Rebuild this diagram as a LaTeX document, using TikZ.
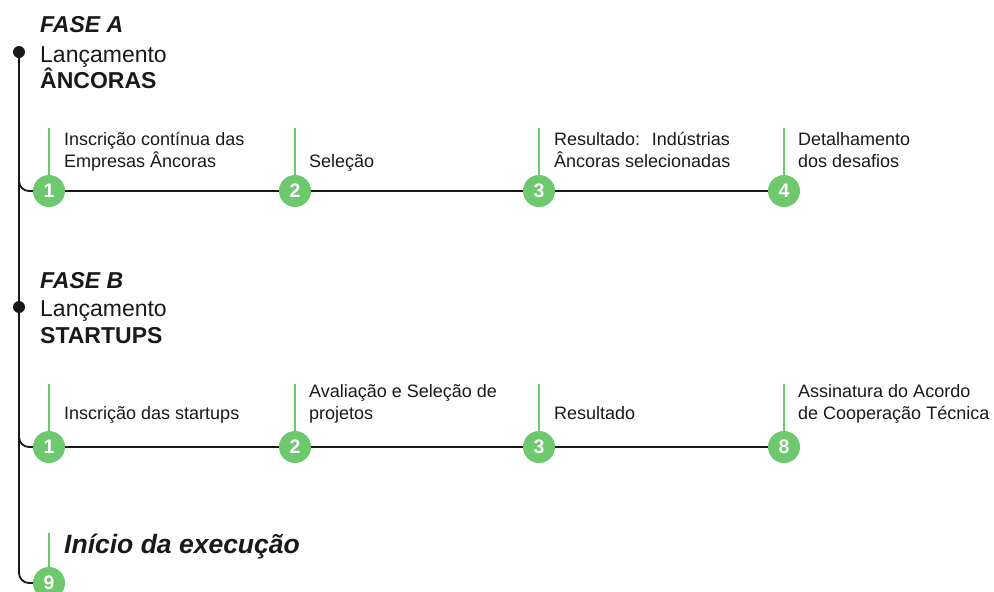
\documentclass[tikz,border=0pt]{standalone}
\usepackage{fontspec}
\setmainfont{Liberation Sans}
\usetikzlibrary{calc}
\definecolor{stepgreen}{RGB}{110,200,110}
\definecolor{ink}{RGB}{25,25,25}
\pgfdeclarelayer{background}
\pgfsetlayers{background,main}
\begin{document}
\begin{tikzpicture}[x=1pt,y=-1pt,
  num/.style={circle, fill=stepgreen, text=white, minimum size=32pt, inner sep=0pt, font=\fontsize{19.5}{19.5}\selectfont\bfseries},
  stem/.style={draw=stepgreen, line width=2.4pt},
  trunk/.style={draw=ink, line width=1.8pt},
  lbl/.style={anchor=base west, inner sep=0pt, align=left, font=\fontsize{18}{21.5}\selectfont, text=ink},
  head/.style={anchor=base west, inner sep=0pt, font=\fontsize{23}{28}\selectfont, text=ink},
  headb/.style={head, font=\fontsize{23}{28}\selectfont\bfseries},
  headbi/.style={head, font=\fontsize{23}{28}\selectfont\bfseries\itshape},
  dot/.style={circle, fill=ink, minimum size=12pt, inner sep=0pt}]
\useasboundingbox (0,0) rectangle (994,592);

% trunk dots
\node[dot] (dA) at (19,52) {};
\node[dot] (dB) at (19,307) {};

% step circles
\node[num] (a1) at (49,191) {1};
\node[num] (a2) at (295,191) {2};
\node[num] (a3) at (539,191) {3};
\node[num] (a4) at (784,191) {4};
\node[num] (b1) at (49,447) {1};
\node[num] (b2) at (295,447) {2};
\node[num] (b3) at (539,447) {3};
\node[num] (b4) at (784,447) {8};
\node[num] (c9) at (49,583) {9};

% junctions and stem tops
\coordinate (jA) at (19,160);
\coordinate (jB) at (19,415);
\coordinate (sa1) at (49,128);
\coordinate (sa2) at (295,128);
\coordinate (sa3) at (539,128);
\coordinate (sa4) at (784,128);
\coordinate (sb1) at (49,384);
\coordinate (sb2) at (295,384);
\coordinate (sb3) at (539,384);
\coordinate (sb4) at (784,384);
\coordinate (sc9) at (49,533);

\begin{pgfonlayer}{background}
  \draw[trunk] (dA.center) -- (dB.center);
  \draw[trunk, rounded corners=10pt] (dB.center) |- (c9.center);
  \draw[trunk, rounded corners=10pt] (jA) |- (a1.center) -- (a4.center);
  \draw[trunk, rounded corners=10pt] (jB) |- (b1.center) -- (b4.center);
\end{pgfonlayer}

\draw[stem] (sa1) -- (a1);
\draw[stem] (sa2) -- (a2);
\draw[stem] (sa3) -- (a3);
\draw[stem] (sa4) -- (a4);
\draw[stem] (sb1) -- (b1);
\draw[stem] (sb2) -- (b2);
\draw[stem] (sb3) -- (b3);
\draw[stem] (sb4) -- (b4);
\draw[stem] (sc9) -- (c9);

% headers
\node[headbi] (fa) at (40,32) {FASE A};
\node[head] (la) at (40,62) {Lançamento};
\node[headb] (na) at (40,88) {ÂNCORAS};
\node[headbi] (fb) at (40,288) {FASE B};
\node[head] (lb) at (40,316) {Lançamento};
\node[headb] (nb) at (40,343) {STARTUPS};

% labels row A (base = last line)
\node[lbl] (ta1) at (64,167) {Inscrição contínua das\\Empresas Âncoras};
\node[lbl] (ta2) at (309,167) {Seleção};
\node[lbl] (ta3) at (554,167) {Resultado: \ Indústrias\\Âncoras selecionadas};
\node[lbl] (ta4) at (798,167) {Detalhamento\\dos desafios};

% labels row B
\node[lbl] (tb1) at (64,419) {Inscrição das startups};
\node[lbl] (tb2) at (309,419) {Avaliação e Seleção de\\projetos};
\node[lbl] (tb3) at (554,419) {Resultado};
\node[lbl] (tb4) at (798,419) {Assinatura do Acordo\\de Cooperação Técnica};

% final
\node[anchor=base west, inner sep=0pt, text=ink, font=\fontsize{26.5}{30}\selectfont\bfseries\itshape] (ini) at (64,553) {Início da execução};
\end{tikzpicture}
\end{document}
